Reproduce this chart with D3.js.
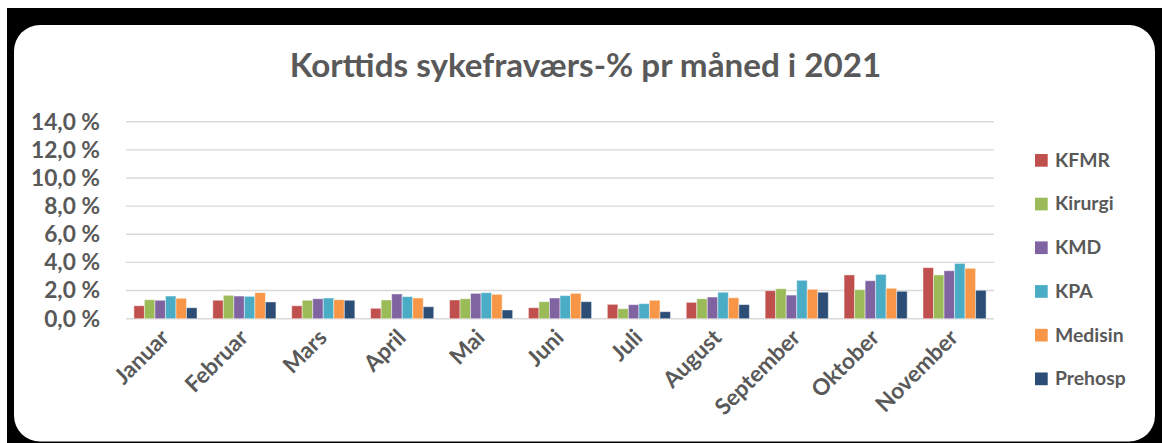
<!DOCTYPE html>
<html>
<head>
<meta charset="utf-8">
<script src="https://cdn.jsdelivr.net/npm/d3@7"></script>
<style>
  html, body { margin: 0; padding: 0; background: #fff; }
  svg { display: block; }
  text { font-family: Lato, "Open Sans", "Liberation Sans", sans-serif; font-weight: bold; fill: #595959; }
</style>
</head>
<body>
<svg id="chart" width="1162" height="443"></svg>
<script>
const months = ["Januar","Februar","Mars","April","Mai","Juni","Juli","August","September","Oktober","November"];
const seriesNames = ["KFMR","Kirurgi","KMD","KPA","Medisin","Prehosp"];
const colors = ["#C0504D","#9BBB59","#8064A2","#4BACC6","#F79646","#2C4D75"];
const KFMR    = [0.92,1.31,0.92,0.74,1.33,0.78,1.02,1.16,1.99,3.11,3.63];
const Kirurgi = [1.35,1.66,1.31,1.33,1.42,1.21,0.71,1.42,2.13,2.06,3.11];
const KMD     = [1.31,1.61,1.42,1.76,1.80,1.47,1.00,1.54,1.68,2.70,3.41];
const KPA     = [1.61,1.59,1.47,1.57,1.85,1.64,1.07,1.88,2.73,3.15,3.93];
const Medisin = [1.45,1.85,1.35,1.47,1.73,1.80,1.31,1.49,2.09,2.16,3.58];
const Prehosp = [0.78,1.19,1.31,0.85,0.62,1.21,0.50,1.00,1.88,1.95,2.02];
const yTicks = [0,2,4,6,8,10,12,14];
const title = "Korttids sykefraværs-% pr måned i 2021";

const values = [KFMR,Kirurgi,KMD,KPA,Medisin,Prehosp];
const svg = d3.select("#chart");

// frame
svg.append("rect").attr("x",7).attr("y",8).attr("width",1155).attr("height",435).attr("fill","#000");
svg.append("rect").attr("x",14).attr("y",25).attr("width",1141).attr("height",416.5).attr("rx",26).attr("ry",26).attr("fill","#fff");

const x0 = d3.scaleBand().domain(months).range([126,994]).padding(0);
const x1 = d3.scaleBand().domain(seriesNames).range([0,x0.bandwidth()]).paddingInner(0).paddingOuter(0.75);
const y = d3.scaleLinear().domain([0,14]).range([318.7,121.7]);

function fit(sel, target) {
  const w = sel.node().getComputedTextLength();
  const fs = parseFloat(sel.attr("font-size"));
  return fs * target / w;
}

// gridlines
svg.append("g").selectAll("line").data(yTicks).join("line")
  .attr("x1",126).attr("x2",994)
  .attr("y1",d=>y(d)).attr("y2",d=>y(d))
  .attr("stroke","#D9D9D9").attr("stroke-width",1.4);

// y labels
const fmt = d => d3.format(".1f")(d).replace(".", ",") + " %";
const probe = svg.append("text").attr("font-size",20).text(fmt(14));
const yfs = fit(probe, 69); probe.remove();
svg.append("g").selectAll("text").data(yTicks).join("text")
  .attr("x",100).attr("y",d=>y(d)+7.8)
  .attr("text-anchor","end").attr("font-size",yfs)
  .text(fmt);

// bars
const g = svg.append("g");
months.forEach((m,i) => {
  const grp = g.append("g").attr("transform",`translate(${x0(m)},0)`);
  grp.selectAll("rect").data(seriesNames.map((s,j)=>({s, v: values[j][i], c: colors[j]}))).join("rect")
    .attr("x",d=>x1(d.s)).attr("width",x1.bandwidth())
    .attr("y",d=>y(d.v)).attr("height",d=>y(0)-y(d.v))
    .attr("fill",d=>d.c)
    .attr("stroke","rgba(255,255,255,0.45)").attr("stroke-width",1);
});

// x labels
const probeX = svg.append("text").attr("font-size",20).text("Januar");
const xfs = fit(probeX, 66); probeX.remove();
svg.append("g").selectAll("text").data(months).join("text")
  .attr("text-anchor","end").attr("font-size",xfs)
  .attr("transform",d=>`translate(${x0(d)+x0.bandwidth()/2+5},${339}) rotate(-45)`)
  .text(d=>d);

// title
const t = svg.append("text").attr("font-size",28).attr("x",585.5).attr("y",77).attr("text-anchor","middle").text(title);
t.attr("font-size", fit(t, 592));

// legend
const probeL = svg.append("text").attr("font-size",20).text("KFMR");
const lfs = fit(probeL, 55); probeL.remove();
const leg = svg.append("g").selectAll("g").data(seriesNames).join("g")
  .attr("transform",(d,i)=>`translate(1035,${154 + i*43.7})`);
leg.append("rect").attr("width",12.7).attr("height",12.7).attr("fill",(d,i)=>colors[i]);
leg.append("text").attr("x",20).attr("y",12.7).attr("font-size",lfs).text(d=>d);
</script>
</body>
</html>
